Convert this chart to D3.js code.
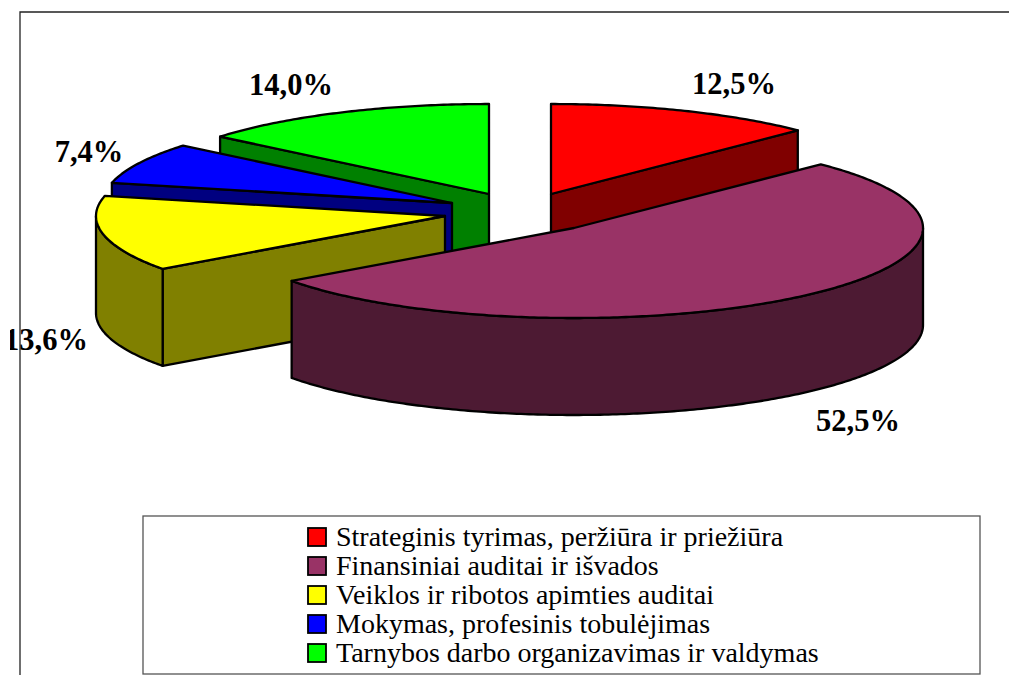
<!DOCTYPE html>
<html><head><meta charset="utf-8">
<script src="https://cdn.jsdelivr.net/npm/d3@7"></script>
<style>html,body{margin:0;padding:0;background:#fff}svg{display:block}
text{font-family:"Liberation Serif","Times New Roman",serif;fill:#000}</style></head>
<body><svg id="c" width="1009" height="675"></svg>
<script>
const categories = ["Strateginis tyrimas, peržiūra ir priežiūra","Finansiniai auditai ir išvados","Veiklos ir ribotos apimties auditai","Mokymas, profesinis tobulėjimas","Tarnybos darbo organizavimas ir valdymas"];
const values = [12.5,52.5,13.6,7.4,14.0];
const valueLabels = ["12,5%","52,5%","13,6%","7,4%","14,0%"];
const topColors = ["#ff0000","#993366","#ffff00","#0000ff","#00ff00"];
const wallColors = ["#800000","#4d1a33","#808000","#000080","#008000"];
const apexX = [551,574,445,452,489];
const apexY = [194,228,216,203,194];
const labelX = [734,858,46,89,291];
const labelY = [94,431,350,162,95];
const drawOrder = [0,4,3,2,1];

const rx=349, ry=90, depth=97;
const svg=d3.select("#c");
const arcs=d3.pie().sort(null).value(d=>d)(values);
const unit=d3.scaleLinear().domain([-1,1]);
const sx=unit.copy().range([-rx,rx]), sy=unit.copy().range([ry,-ry]);
const pt=(i,a,dz=0)=>[apexX[i]+sx(Math.sin(a)),apexY[i]+sy(Math.cos(a))+dz];
const apex=(i,dz=0)=>[apexX[i],apexY[i]+dz];
const line=d3.line();
const steps=(a,b)=>{const n=Math.max(2,Math.ceil(Math.abs(b-a)/0.012));return d3.range(n+1).map(k=>a+(b-a)*k/n);};

svg.append("defs").append("clipPath").attr("id","lc").append("rect").attr("x",10).attr("y",0).attr("width",999).attr("height",675);

// frame
svg.append("path").attr("d",line([[20,675],[20,12],[1009,12]])).attr("fill","none").attr("stroke","#222").attr("stroke-width",1.3);

const sw=2.3;
drawOrder.forEach(i=>{
  const s=arcs[i].startAngle,e=arcs[i].endAngle,g=svg.append("g");
  const face=(pts,fill)=>g.append("path").attr("d",line(pts)+"Z").attr("fill",fill).attr("stroke","#000").attr("stroke-width",sw).attr("stroke-linejoin","round");
  // radial side walls that face the viewer
  if(e<Math.PI) face([apex(i),pt(i,e),pt(i,e,depth),apex(i,depth)],wallColors[i]);
  if(s>Math.PI) face([apex(i),pt(i,s),pt(i,s,depth),apex(i,depth)],wallColors[i]);
  // rim wall (front half only)
  const a0=Math.max(s,Math.PI/2),a1=Math.min(e,Math.PI*1.5);
  if(a1>a0){
    const A=steps(a0,a1);
    face(A.map(a=>pt(i,a)).concat(A.slice().reverse().map(a=>pt(i,a,depth))),wallColors[i]);
  }
  // top
  face([apex(i)].concat(steps(s,e).map(a=>pt(i,a))),topColors[i]);
});

// value labels
valueLabels.forEach((t,i)=>{
  svg.append("text").attr("x",labelX[i]).attr("y",labelY[i]).attr("text-anchor","middle")
    .attr("font-size",30.5).attr("font-weight","bold").attr("clip-path",i===2?"url(#lc)":null).text(t);
});

// legend
svg.append("rect").attr("x",143).attr("y",516).attr("width",837).attr("height",158).attr("fill","#fff").attr("stroke","#555").attr("stroke-width",1.3);
const ly=d3.scalePoint().domain(d3.range(categories.length)).range([537,653]);
categories.forEach((t,i)=>{
  svg.append("rect").attr("x",308).attr("y",ly(i)-9).attr("width",18).attr("height",18).attr("fill",topColors[i]).attr("stroke","#000").attr("stroke-width",1.8);
  svg.append("text").attr("x",336).attr("y",ly(i)+9).attr("font-size",28).text(t);
});
</script></body></html>
